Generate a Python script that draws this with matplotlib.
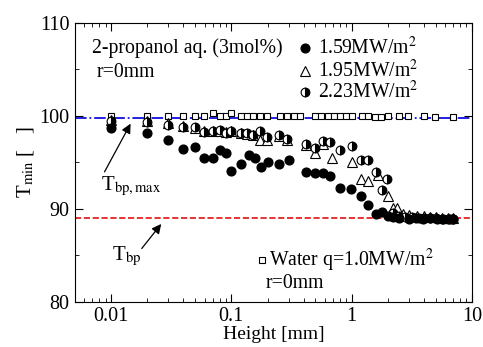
import matplotlib
matplotlib.use("Agg")
import matplotlib.pyplot as plt
from matplotlib.ticker import MultipleLocator, LogLocator, NullFormatter
import numpy as np

plt.rcParams['font.family'] = ['Liberation Serif', 'DejaVu Serif']
plt.rcParams['mathtext.fontset'] = 'stix'

# 1.59 MW/m2 (filled circles)
h_159 = [0.01, 0.02, 0.03, 0.04, 0.05, 0.059, 0.07, 0.08, 0.09, 0.1, 0.12, 0.14,
         0.157, 0.177, 0.2, 0.25, 0.3, 0.42, 0.5, 0.58, 0.66, 0.8, 0.98, 1.2, 1.38,
         1.59, 1.8, 2.0, 2.2, 2.5, 3.0, 3.4, 3.9, 4.5, 5.1, 5.8, 6.6, 7.0]
t_159 = [98.65, 98.15, 97.4, 96.4, 96.6, 95.5, 95.5, 96.3, 96.0, 94.1, 94.8, 95.8,
         95.5, 94.5, 95.0, 94.8, 95.2, 94.0, 93.8, 93.8, 93.5, 92.2, 92.1, 91.4, 90.4,
         89.4, 89.7, 89.2, 89.1, 89.0, 88.9, 89.0, 88.9, 89.0, 88.9, 88.9, 88.9, 88.9]

# 1.95 MW/m2 (open triangles)
h_195 = [0.01, 0.02, 0.03, 0.04, 0.05, 0.059, 0.07, 0.08, 0.09, 0.1, 0.12, 0.136,
         0.15, 0.173, 0.197, 0.25, 0.29, 0.42, 0.5, 0.58, 0.69, 1.0, 1.2, 1.38, 1.66,
         2.0, 2.2, 2.4, 2.7, 3.0, 3.5, 4.0, 4.5, 5.0, 5.6, 6.3, 7.0]
t_195 = [99.5, 99.4, 99.2, 98.9, 98.7, 98.3, 98.3, 98.4, 98.2, 98.3, 98.1, 98.0,
         97.9, 97.4, 97.4, 97.8, 97.4, 96.9, 96.0, 97.0, 95.5, 95.0, 93.2, 93.0, 93.6,
         91.4, 90.1, 90.1, 89.4, 89.3, 89.2, 89.2, 89.1, 89.1, 89.0, 89.0, 89.0]

# 2.23 MW/m2 (half-filled circles)
h_223 = [0.01, 0.02, 0.03, 0.04, 0.05, 0.059, 0.07, 0.08, 0.09, 0.1, 0.12, 0.136,
         0.152, 0.173, 0.197, 0.25, 0.29, 0.42, 0.5, 0.58, 0.66, 0.8, 1.0, 1.2, 1.38,
         1.6, 1.79, 1.97, 2.2, 2.5, 2.8, 3.2, 3.6, 4.0, 4.5, 5.0, 5.6, 6.3, 7.0]
t_223 = [99.4, 99.3, 99.05, 98.8, 98.75, 98.2, 98.3, 98.5, 98.15, 98.3, 98.1, 98.15,
         97.9, 98.3, 97.7, 97.9, 97.5, 97.0, 96.5, 97.3, 97.15, 96.3, 96.7, 95.2, 95.2,
         94.0, 92.0, 93.2, 89.5, 89.2, 89.1, 89.1, 89.0, 89.0, 89.0, 89.0, 88.9, 88.9, 88.9]

# Water q=1.0 MW/m2 (open squares)
h_water = [0.01, 0.02, 0.03, 0.04, 0.05, 0.059, 0.07, 0.08, 0.09, 0.1, 0.12, 0.136,
           0.152, 0.173, 0.197, 0.254, 0.29, 0.33, 0.37, 0.5, 0.56, 0.64, 0.71, 0.8,
           0.9, 1.0, 1.21, 1.38, 1.56, 1.74, 2.0, 2.5, 2.96, 4.0, 4.93, 6.9]
t_water = [100.0, 100.0, 100.0, 100.0, 100.0, 100.0, 100.3, 100.0, 100.0, 100.3, 99.95,
           99.95, 99.95, 99.95, 100.0, 99.95, 99.95, 99.95, 99.95, 99.95, 99.95, 99.95,
           99.95, 99.95, 99.95, 99.95, 99.95, 99.95, 99.9, 99.9, 99.95, 100.0, 100.0,
           100.0, 99.85, 99.9]

t_bp_max = 99.75
t_bp = 89.0

fig = plt.figure(figsize=(4.83, 3.47), dpi=100)
ax = fig.add_axes([0.155, 0.13, 0.822, 0.805])

ax.axhline(t_bp_max, color='#1010e0', ls='-.', lw=1.3, zorder=1)
ax.axhline(t_bp, color='#e01010', ls='--', lw=1.2, zorder=1)

half = dict(marker='o', ms=6.3, mec='black', mew=0.8, ls='none', fillstyle='right',
            markerfacecolor='black', markerfacecoloralt='white')

ax.plot(h_water, t_water, 's', ms=4.3, mfc='white', mec='black', mew=0.8, ls='none', zorder=2)
ax.plot(h_195, t_195, '^', ms=6.8, mfc='white', mec='black', mew=0.8, ls='none', zorder=3)
ax.plot(h_223, t_223, zorder=4, **half)
ax.plot(h_159, t_159, 'o', ms=6.3, mfc='black', mec='black', ls='none', zorder=5)

ax.set_xscale('log')
ax.set_xlim(0.005, 10)
ax.set_ylim(80, 110)
ax.set_xticks([0.01, 0.1, 1, 10])
ax.set_xticklabels(['0.01', '0.1', '1', '10'])
ax.xaxis.set_minor_locator(LogLocator(base=10, subs=np.arange(2, 10)))
ax.xaxis.set_minor_formatter(NullFormatter())
ax.yaxis.set_major_locator(MultipleLocator(10))
ax.yaxis.set_minor_locator(MultipleLocator(5))
ax.tick_params(which='both', direction='in', top=True, right=True, labelsize=14.5)
ax.tick_params(which='major', length=6, pad=4)
ax.tick_params(which='minor', length=3)

ax.set_xlabel('Height [mm]', fontsize=14, labelpad=0)
ax.set_ylabel(r'T$_{\rm min}$ [   ]', fontsize=15, labelpad=2)

fs = 14.2
ax.text(0.0069, 107.3, '2-propanol aq. (3mol%)', fontsize=fs, va='center')
ax.text(0.00765, 104.6, 'r=0mm', fontsize=fs, va='center')

leg_x = 0.41
ax.plot([leg_x], [107.3], 'o', ms=6.3, mfc='black', mec='black')
ax.plot([leg_x], [104.8], '^', ms=6.8, mfc='white', mec='black', mew=0.8)
ax.plot([leg_x], [102.5], **half)
ax.text(0.53, 107.3, r'1.59MW/m$^2$', fontsize=fs, va='center')
ax.text(0.53, 104.8, r'1.95MW/m$^2$', fontsize=fs, va='center')
ax.text(0.53, 102.5, r'2.23MW/m$^2$', fontsize=fs, va='center')

ax.plot([0.18], [84.5], 's', ms=4.8, mfc='white', mec='black', mew=0.8)
ax.text(0.205, 84.5, r'Water q=1.0MW/m$^2$', fontsize=fs, va='center')
ax.text(0.193, 82.0, 'r=0mm', fontsize=fs, va='center')

ax.annotate('', xy=(0.0149, 99.4), xytext=(0.0086, 93.7),
            arrowprops=dict(arrowstyle='-|>', color='black', lw=0.9, mutation_scale=14))
ax.text(0.0083, 92.4, r'T$_{\rm bp,max}$', fontsize=15, va='center')
ax.annotate('', xy=(0.027, 88.6), xytext=(0.0174, 85.5),
            arrowprops=dict(arrowstyle='-|>', color='black', lw=0.9, mutation_scale=14))
ax.text(0.0101, 84.9, r'T$_{\rm bp}$', fontsize=15, va='center')

plt.savefig('out.png', dpi=100)
